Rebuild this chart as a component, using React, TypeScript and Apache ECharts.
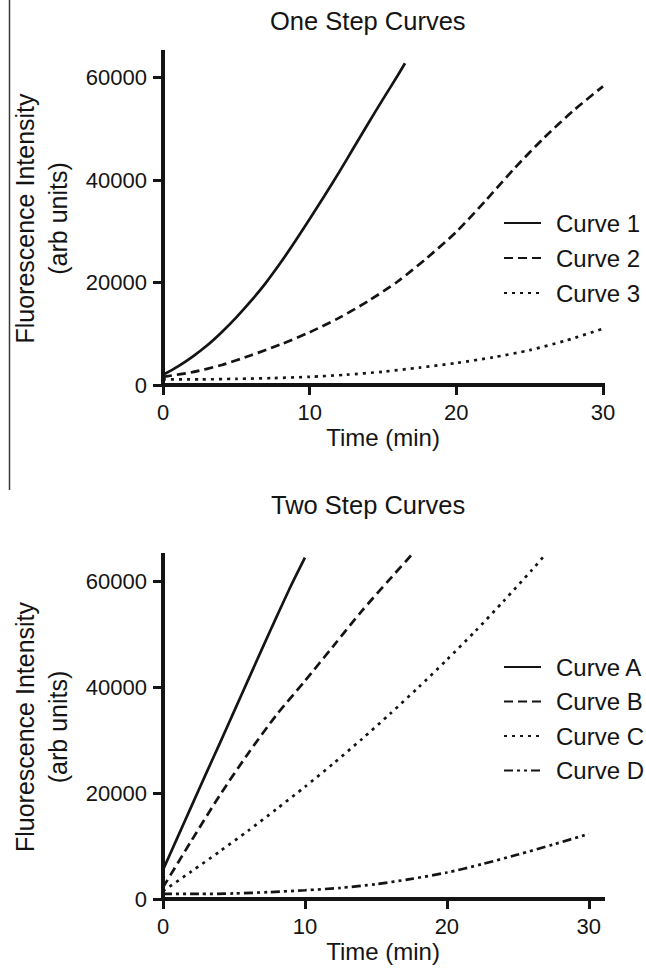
import React, { useEffect, useRef } from "react";
import * as echarts from "echarts";

// ---------- data ----------
const TOP_TITLE = "One Step Curves";
const BOTTOM_TITLE = "Two Step Curves";
const X_NAME = "Time (min)";
const Y_NAME = "Fluorescence Intensity\n(arb units)";

const Y_TICKS = [0, 20000, 40000, 60000];
const X_TICKS = [0, 10, 20, 30];

const ONE_STEP_NAMES = ["Curve 1", "Curve 2", "Curve 3"];
const TWO_STEP_NAMES = ["Curve A", "Curve B", "Curve C", "Curve D"];

const T_CURVE_1 = [0, 1, 2, 3, 4, 5, 6, 7, 8, 9, 10, 11, 12, 13, 14, 15, 16, 16.5];
const CURVE_1 = [2000, 3600, 5500, 7700, 10300, 13200, 16400, 19900, 23800, 28000, 32400, 36900, 41500, 46300, 51100, 55800, 60400, 62800];

const T_CURVE_2 = [0, 2, 4, 6, 8, 10, 12, 14, 16, 18, 20, 22, 24, 26, 28, 30];
const CURVE_2 = [1600, 2500, 3900, 5800, 7900, 10300, 13100, 16400, 20200, 24800, 29900, 36000, 42400, 48300, 53600, 58300];

const T_CURVE_3 = [0, 2.5, 5, 7.5, 10, 12.5, 15, 17.5, 20, 22.5, 25, 27.5, 30];
const CURVE_3 = [1100, 1100, 1200, 1350, 1600, 2000, 2600, 3400, 4300, 5400, 6800, 8700, 11000];

const T_CURVE_A = [0, 1, 2, 3, 4, 5, 6, 7, 8, 9, 10];
const CURVE_A = [5500, 11500, 17500, 23500, 29400, 35400, 41400, 47400, 53300, 59100, 64500];

const T_CURVE_B = [0, 2, 4, 6, 8, 10, 12, 14, 16, 17.5];
const CURVE_B = [2200, 11000, 19600, 27500, 34800, 41200, 47800, 54400, 60500, 65000];

const T_CURVE_C = [0, 2, 4, 6, 8, 10, 12, 14, 16, 18, 20, 22, 24, 26, 26.9];
const CURVE_C = [1500, 5200, 9000, 12900, 17000, 21200, 25600, 30200, 35000, 40000, 45200, 50600, 56300, 62200, 65000];

const T_CURVE_D = [0, 2.5, 5, 7.5, 10, 12.5, 15, 17.5, 20, 22.5, 25, 27.5, 30];
const CURVE_D = [950, 950, 1050, 1300, 1650, 2100, 2800, 3800, 5000, 6600, 8400, 10300, 12300];

// ---------- styling ----------
const FONT = "'Liberation Sans', Arial, Helvetica, sans-serif";
const INK = "#141414";

const pairs = (t: number[], v: number[]) => t.map((x, i) => [x, v[i]]);

const DASH_SOLID: any = "solid";
const DASH_DASHED = [9, 5];
const DASH_DOTTED = [3, 5];
const DASH_DASHDOTS = [9, 4, 3, 4, 3, 4];

function lineSeries(name: string, t: number[], v: number[], idx: number, dash: any) {
  return {
    type: "line",
    name,
    xAxisIndex: idx,
    yAxisIndex: idx,
    data: pairs(t, v),
    symbol: "none",
    showSymbol: false,
    smooth: 0.25,
    lineStyle: { color: INK, width: 2.7, type: dash },
    itemStyle: { color: INK },
    emphasis: { disabled: true },
    z: 3,
  };
}

function xAxis(idx: number, max: number) {
  return {
    type: "value",
    gridIndex: idx,
    min: 0,
    max,
    interval: 10,
    name: X_NAME,
    nameLocation: "middle",
    nameGap: 40,
    nameTextStyle: { fontFamily: FONT, fontSize: 24, color: INK },
    axisLine: { show: true, onZero: false, lineStyle: { color: INK, width: 4, cap: "square" } },
    axisTick: { show: true, length: 10, lineStyle: { color: INK, width: 3 }, customValues: X_TICKS },
    axisLabel: {
      fontFamily: FONT,
      fontSize: 22,
      color: INK,
      margin: 16,
      customValues: X_TICKS,
      formatter: (v: number) => String(v),
    },
    splitLine: { show: false },
  };
}

function yAxis(idx: number) {
  return {
    type: "value",
    gridIndex: idx,
    min: 0,
    max: 65000,
    interval: 20000,
    name: Y_NAME,
    nameLocation: "middle",
    nameRotate: 90,
    nameGap: 89,
    nameTextStyle: { fontFamily: FONT, fontSize: 25, color: INK, lineHeight: 33, align: "center" },
    axisLine: { show: true, onZero: false, lineStyle: { color: INK, width: 4, cap: "square" } },
    axisTick: { show: true, length: 10, lineStyle: { color: INK, width: 3 }, customValues: Y_TICKS },
    axisLabel: {
      fontFamily: FONT,
      fontSize: 22,
      color: INK,
      margin: 16,
      customValues: Y_TICKS,
      formatter: (v: number) => String(v),
    },
    splitLine: { show: false },
  };
}

function legend(names: string[], top: number, gap: number) {
  return {
    data: names,
    orient: "vertical",
    left: 503,
    top,
    padding: 0,
    itemWidth: 37,
    itemHeight: 14,
    itemGap: gap,
    selectedMode: false,
    itemStyle: { opacity: 0, borderWidth: 0 },
    textStyle: {
      fontFamily: FONT,
      fontSize: 24,
      lineHeight: 24,
      color: INK,
      padding: [0, 0, 0, 10],
    },
  };
}

export default function App() {
  const ref = useRef<HTMLDivElement>(null);

  useEffect(() => {
    document.body.style.margin = "0";
    if (!ref.current) return;
    const chart = echarts.init(ref.current, null, { renderer: "svg" });
    const option: any = {
      animation: false,
      backgroundColor: "#ffffff",
      title: [
        {
          text: TOP_TITLE,
          left: 270,
          top: 8,
          padding: 0,
          textStyle: { fontFamily: FONT, fontSize: 25.5, fontWeight: "normal", color: INK },
        },
        {
          text: BOTTOM_TITLE,
          left: 271,
          top: 492,
          padding: 0,
          textStyle: { fontFamily: FONT, fontSize: 25.5, fontWeight: "normal", color: INK },
        },
      ],
      grid: [
        { left: 159, top: 52, width: 444, height: 333, containLabel: false },
        { left: 158, top: 555, width: 445, height: 344, containLabel: false },
      ],
      xAxis: [xAxis(0, 30), xAxis(1, 31)],
      yAxis: [yAxis(0), yAxis(1)],
      legend: [legend(ONE_STEP_NAMES, 211, 11), legend(TWO_STEP_NAMES, 655, 10.5)],
      series: [
        lineSeries(ONE_STEP_NAMES[0], T_CURVE_1, CURVE_1, 0, DASH_SOLID),
        lineSeries(ONE_STEP_NAMES[1], T_CURVE_2, CURVE_2, 0, DASH_DASHED),
        lineSeries(ONE_STEP_NAMES[2], T_CURVE_3, CURVE_3, 0, DASH_DOTTED),
        lineSeries(TWO_STEP_NAMES[0], T_CURVE_A, CURVE_A, 1, DASH_SOLID),
        lineSeries(TWO_STEP_NAMES[1], T_CURVE_B, CURVE_B, 1, DASH_DASHED),
        lineSeries(TWO_STEP_NAMES[2], T_CURVE_C, CURVE_C, 1, DASH_DOTTED),
        lineSeries(TWO_STEP_NAMES[3], T_CURVE_D, CURVE_D, 1, DASH_DASHDOTS),
      ],
      graphic: [
        {
          type: "line",
          shape: { x1: 9.5, y1: 0, x2: 9.5, y2: 490 },
          style: { stroke: "#3a3a3a", lineWidth: 1.5 },
          silent: true,
        },
      ],
    };
    chart.setOption(option);
    return () => chart.dispose();
  }, []);

  return (
    <div
      ref={ref}
      style={{ position: "absolute", left: 0, top: 0, width: 646, height: 970, background: "#fff" }}
    />
  );
}
